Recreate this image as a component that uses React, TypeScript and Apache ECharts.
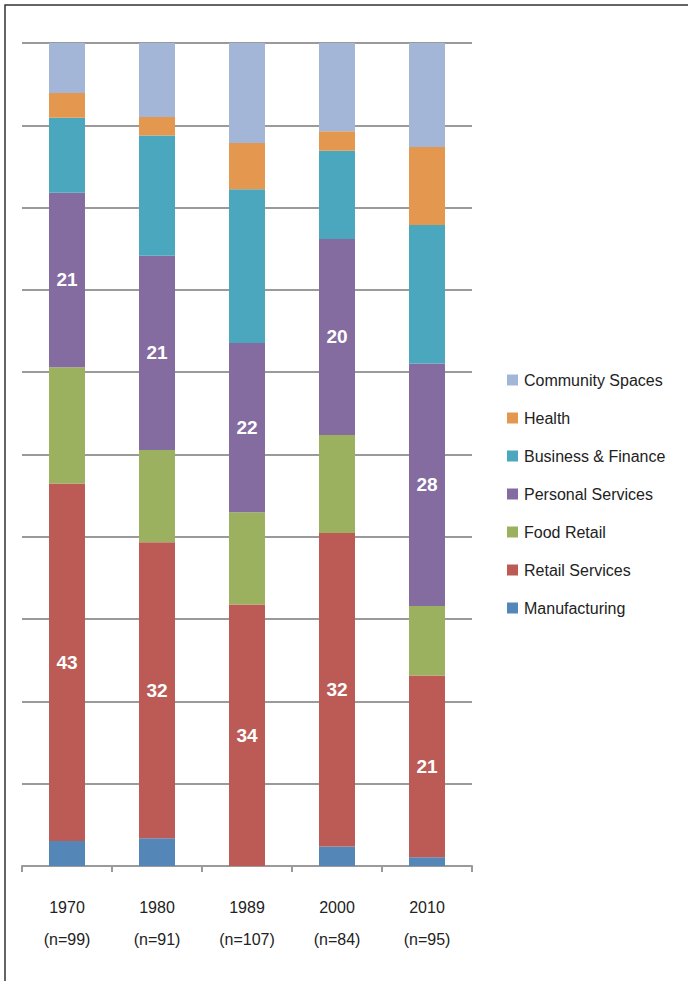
import React, { useEffect, useRef } from "react";
import * as echarts from "echarts";

const years = ["1970", "1980", "1989", "2000", "2010"];
const sampleSizes = [99, 91, 107, 84, 95];

const manufacturing = [3, 3, 0, 2, 1];
const retailServices = [43, 32, 34, 32, 21];
const foodRetail = [14, 10, 12, 10, 8];
const personalServices = [21, 21, 22, 20, 28];
const businessFinance = [9, 13, 20, 9, 16];
const health = [3, 2, 6, 2, 9];
const communitySpaces = [6, 8, 13, 9, 12];

const seriesDefs = [
  { name: "Manufacturing", data: manufacturing, color: "#5486B8", label: false },
  { name: "Retail Services", data: retailServices, color: "#BC5B55", label: true },
  { name: "Food Retail", data: foodRetail, color: "#9BB160", label: false },
  { name: "Personal Services", data: personalServices, color: "#846BA0", label: true },
  { name: "Business & Finance", data: businessFinance, color: "#4BA7BD", label: false },
  { name: "Health", data: health, color: "#E4984F", label: false },
  { name: "Community Spaces", data: communitySpaces, color: "#A3B6D8", label: false },
];

const FONT = "'Liberation Sans', Arial, sans-serif";

export default function App() {
  const ref = useRef<HTMLDivElement>(null);

  useEffect(() => {
    if (!ref.current) return;
    const chart = echarts.init(ref.current, undefined, { renderer: "svg" });
    const totals = years.map((_, i) =>
      seriesDefs.reduce((s, d) => s + d.data[i], 0)
    );
    const categories = years.map((y, i) => `${y}\n(n=${sampleSizes[i]})`);

    chart.setOption({
      animation: false,
      backgroundColor: "#fff",
      grid: { left: 22, right: 216, top: 43, bottom: 115, containLabel: false },
      legend: {
        orient: "vertical",
        left: 502,
        top: 367,
        itemWidth: 11,
        itemHeight: 11,
        itemGap: 22,
        icon: "rect",
        data: seriesDefs.map((d) => d.name).reverse(),
        textStyle: {
          fontFamily: FONT,
          fontSize: 16,
          color: "#222",
          lineHeight: 16,
          padding: [0, 0, 0, 1],
        },
      },
      xAxis: {
        type: "category",
        data: categories,
        axisLine: { show: true, lineStyle: { color: "#9a9a9a", width: 2 } },
        axisTick: { show: true, length: 6, lineStyle: { color: "#9a9a9a", width: 2 } },
        axisLabel: {
          fontFamily: FONT,
          fontSize: 16,
          color: "#222",
          lineHeight: 32,
          margin: 25,
        },
      },
      yAxis: {
        type: "value",
        min: 0,
        max: 100,
        interval: 10,
        axisLabel: { show: false },
        axisLine: { show: false },
        axisTick: { show: false },
        splitLine: { show: true, lineStyle: { color: "#9a9a9a", width: 2 } },
      },
      graphic: [
        {
          type: "rect",
          shape: { x: 5, y: 5, width: 900, height: 1200 },
          style: { fill: "none", stroke: "#333", lineWidth: 1.5 },
          silent: true,
          z: 100,
        },
      ],
      series: seriesDefs.map((d) => ({
        name: d.name,
        type: "bar",
        stack: "total",
        barWidth: 36,
        itemStyle: { color: d.color },
        label: {
          show: d.label,
          position: "inside",
          color: "#fff",
          fontFamily: "'Liberation Sans Narrow', 'Liberation Sans', Arial, sans-serif",
          fontWeight: "bold",
          fontSize: 19,
          formatter: (p: any) => String(p.data.count),
        },
        data: d.data.map((v, i) => ({ value: (v / totals[i]) * 100, count: v })),
      })),
    });

    return () => chart.dispose();
  }, []);

  return (
    <div
      ref={ref}
      style={{ position: "absolute", left: 0, top: 0, width: 688, height: 981 }}
    />
  );
}
